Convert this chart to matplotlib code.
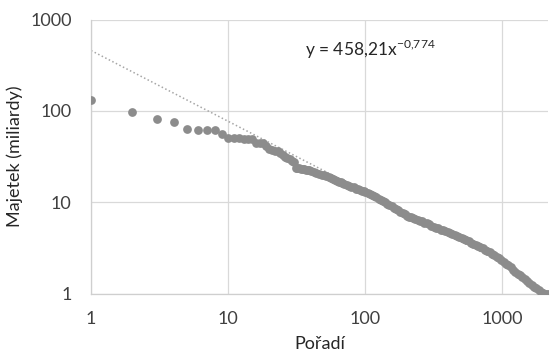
import numpy as np
import matplotlib.pyplot as plt

plt.rcParams['font.family'] = ['Lato', 'DejaVu Sans']
plt.rcParams['font.size'] = 13
plt.rcParams['mathtext.fontset'] = 'custom'
plt.rcParams['mathtext.rm'] = 'Lato'

# rank in the list and wealth in billions
rank = [1, 2, 3, 4, 5, 6, 7, 8, 9, 10,
        11, 12, 13, 14, 15, 16, 17, 18, 19, 20,
        21, 22, 23, 24, 25, 26, 27, 28, 29, 30,
        31, 32, 33, 34, 35, 36, 37, 38, 39, 40,
        42, 44, 46, 48, 50, 52, 54, 56, 58, 60,
        62, 64, 66, 68, 70, 73, 76, 79, 82, 85,
        88, 91, 94, 97, 100, 104, 108, 112, 116, 120,
        125, 130, 135, 140, 145, 150, 156, 162, 168, 174,
        180, 187, 194, 201, 208, 216, 224, 232, 241, 250,
        260, 270, 281, 292, 303, 315, 328, 341, 354, 368,
        383, 398, 414, 430, 447, 465, 484, 503, 523, 544,
        566, 589, 612, 637, 662, 689, 716, 745, 775, 806,
        838, 871, 906, 942, 980, 1019, 1060, 1102, 1146, 1192,
        1240, 1290, 1341, 1395, 1451, 1509, 1569, 1632, 1697, 1765,
        1836, 1909, 1985, 2064, 2153]
wealth = [131, 96.5, 82.5, 76, 64, 62.7, 62.5, 62.3, 55.5, 50.8,
          50.5, 50.5, 50.0, 49.8, 49.3, 44.6, 44.4, 44.3, 41.2, 38.8,
          37.3, 36.2, 36.1, 35.1, 33.4, 31.5, 30.5, 29.6, 28.5, 27.5,
          23.9, 23.9, 23.9, 23.5, 23.3, 23.0, 22.8, 22.6, 22.4, 22.1,
          21.5, 21.1, 20.7, 20.2, 19.8, 19.4, 18.9, 18.4, 18.0, 17.6,
          17.2, 16.9, 16.6, 16.3, 16.0, 15.6, 15.3, 14.9, 14.6, 14.2,
          13.9, 13.7, 13.4, 13.2, 13.0, 12.6, 12.3, 12.0, 11.7, 11.4,
          11.0, 10.7, 10.3, 10.0, 9.7, 9.4, 9.1, 8.8, 8.5, 8.2,
          7.9, 7.6, 7.4, 7.2, 7.0, 6.9, 6.8, 6.6, 6.5, 6.3,
          6.2, 6.0, 5.9, 5.75, 5.6, 5.45, 5.3, 5.2, 5.05, 4.95,
          4.85, 4.75, 4.65, 4.5, 4.4, 4.3, 4.2, 4.1, 3.95, 3.85,
          3.75, 3.65, 3.55, 3.45, 3.35, 3.25, 3.15, 3.05, 2.95, 2.85,
          2.75, 2.65, 2.55, 2.45, 2.35, 2.25, 2.15, 2.05, 1.95, 1.85,
          1.75, 1.67, 1.6, 1.53, 1.47, 1.4, 1.32, 1.25, 1.2, 1.15,
          1.1, 1.05, 1.02, 1.0, 1.0]

# power trendline from the chart (only its visible part, the rest hides in the points)
coef, expo = 458.21, -0.774
xs = np.linspace(1, 1000, 400)

fig = plt.figure(figsize=(5.52, 3.55), dpi=100)
ax = fig.add_axes([0.165, 0.172, 0.828, 0.773])

ax.plot(xs, coef * xs ** expo, linestyle=(0, (1, 1.6)), color='#a6a6a6', lw=1.1, zorder=2)
ax.plot(rank, wealth, 'o', color='#8c8c8c', markersize=6.3, markeredgewidth=0, zorder=3)

ax.set_xscale('log')
ax.set_yscale('log')
ax.set_xlim(1, max(rank))
ax.set_ylim(1, 1000)
ax.set_xticks([1, 10, 100, 1000])
ax.set_xticklabels(['1', '10', '100', '1000'])
ax.set_yticks([1, 10, 100, 1000])
ax.set_yticklabels(['1', '10', '100', '1000'])
ax.minorticks_off()
ax.tick_params(length=0, colors='#404040', labelsize=13)
ax.tick_params(axis='y', pad=14)
ax.tick_params(axis='x', pad=12)
ax.grid(True, color='#d9d9d9', lw=0.9)
ax.set_axisbelow(True)
for s in ['top', 'right']:
    ax.spines[s].set_visible(False)
for s in ['left', 'bottom']:
    ax.spines[s].set_color('#cfcfcf')
    ax.spines[s].set_linewidth(0.9)

ax.set_xlabel('Pořadí', fontsize=13, color='#262626', labelpad=7)
ax.set_ylabel('Majetek (miliardy)', fontsize=13, color='#262626', labelpad=5)

ax.text(36.5, 398, r'y = 458,21x$^{\mathregular{-0{,}774}}$', fontsize=12.5, color='#262626', va='baseline')

fig.savefig('out.png', dpi=100)
